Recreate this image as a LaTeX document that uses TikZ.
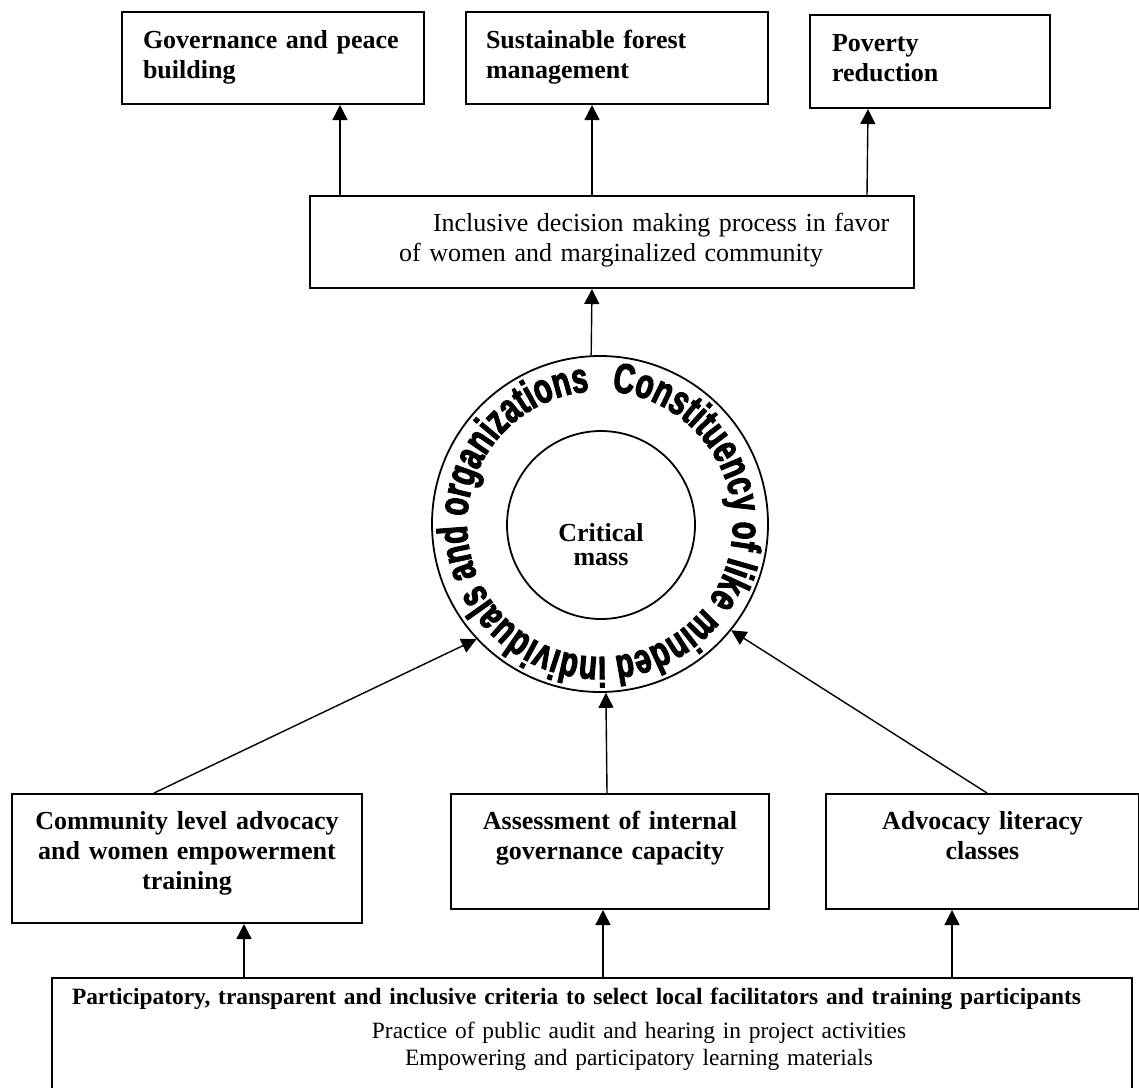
\documentclass[tikz,border=0pt]{standalone}
\usepackage{fontspec}
\setmainfont{Liberation Serif}
\newfontfamily\ringfont[FakeStretch=0.7,FakeBold=2.5]{Liberation Sans}
\usetikzlibrary{arrows.meta,decorations.text}

\begin{document}
\begin{tikzpicture}[x=0.5pt,y=-0.5pt,->,>={Triangle[length=7.5pt,width=7.5pt]},line width=0.7pt]
    \tikzstyle{box}=[draw,rectangle,line width=1pt,inner ysep=0pt,anchor=north west,font=\fontsize{13}{15}\selectfont]
    \tikzstyle{goal}=[box,align=left,font=\bfseries\fontsize{13}{15}\selectfont,text height=18pt,text depth=28pt]
    \tikzstyle{act}=[box,align=center,inner xsep=0pt,font=\bfseries\fontsize{13}{15}\selectfont,text height=17.5pt]
    \tikzstyle{disc}=[draw,circle,inner sep=0pt,line width=0.9pt]

    \useasboundingbox (0,0) rectangle (1139,1087);

    % outcomes
    \node[goal,text width=130pt,inner xsep=10.5pt]       (gov) at (121,11) {Governance and peace\\building};
    \node[goal,text width=131pt,inner xsep=10pt]         (sfm) at (465,11) {Sustainable forest\\management};
    \node[goal,text width=98pt,inner xsep=11pt,text depth=28.5pt] (pov) at (809,14) {Poverty\\reduction};

    % decision making
    \node[box,align=left,text width=302pt,inner xsep=0pt,text height=17.5pt,text depth=28.5pt] (idm) at (309,195)
      {\hspace*{61.5pt}Inclusive decision making process in favor\\\hspace*{44.5pt}of women and marginalized community};

    % constituency ring
    \node[disc,minimum size=168pt] (ring) at (600,524) {};
    \node[disc,minimum size=94pt,align=center,text width=60pt,font=\bfseries\fontsize{13}{12}\selectfont,text height=28pt,text depth=12pt] (mass) at (601,525) {Critical\\mass};
    \path[decorate,decoration={text along path,text align=fit to path,
      text={|\ringfont\bfseries\fontsize{21}{22}\selectfont|Constituency of like minded individuals and organizations}}]
      (ring.center) ++(-85:133) arc[start angle=-85,end angle=265,radius=133];

    % activities
    \node[act,text width=175pt,text depth=47pt]   (cla) at (11,793)  {Community level advocacy\\and women empowerment\\training};
    \node[act,text width=159pt,text depth=40pt]   (aig) at (450,793) {Assessment of internal\\governance capacity};
    \node[act,text width=156.5pt,text depth=40pt] (alc) at (825,793) {Advocacy literacy\\classes};

    % principles
    \node[box,align=left,text width=520pt,inner xsep=10pt,text height=13pt,text depth=48.5pt,font=\fontsize{11.7}{13.5}\selectfont] (crit) at (51,977)
      {\mbox{\bfseries Participatory, transparent and inclusive criteria to select local facilitators and training participants}\\[3.5pt]
       \hspace*{283.5pt}\makebox[0pt][c]{Practice of public audit and hearing in project activities}\\
       \hspace*{283.5pt}\makebox[0pt][c]{Empowering and participatory learning materials}};

    \path
     ([xshift=-136pt]idm.north)  edge ([xshift=33.5pt]gov.south)
     ([xshift=-10pt]idm.north)   edge ([xshift=-12.5pt]sfm.south)
     ([xshift=127.5pt]idm.north) edge ([xshift=-31pt]pov.south)
     (ring.93)                   edge ([xshift=-10pt]idm.south)
     ([xshift=-16.5pt]cla.north) edge (ring.223)
     ([xshift=-1.5pt]aig.north)  edge (ring.272)
     ([xshift=2.25pt]alc.north)  edge (ring.321)
     ([xshift=-174pt]crit.north) edge ([xshift=28.5pt]cla.south)
     ([xshift=5.5pt]crit.north)  edge ([xshift=-3.5pt]aig.south)
     ([xshift=180pt]crit.north)  edge ([xshift=-15.25pt]alc.south);
\end{tikzpicture}
\end{document}
